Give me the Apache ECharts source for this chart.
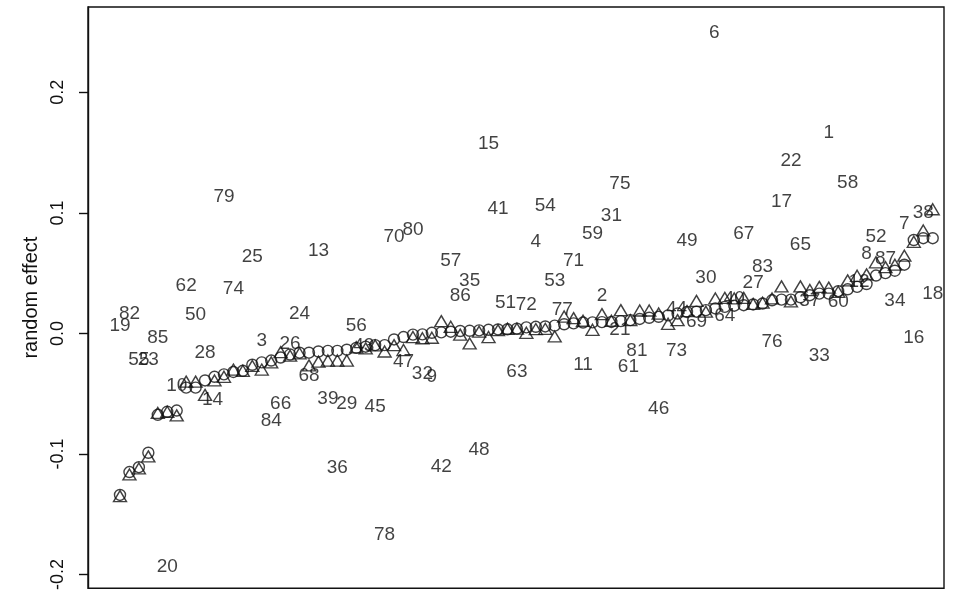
<!DOCTYPE html>
<html>
<head>
<meta charset="utf-8">
<script src="https://cdn.jsdelivr.net/npm/echarts@6/dist/echarts.min.js"></script>
<style>html,body{margin:0;padding:0;background:#fff}#c{width:954px;height:593px}</style>
</head>
<body>
<div id="c"></div>
<script>
// Sorted random effects (circles), one per rank 1..87
var circleVals = [-0.134,-0.115,-0.111,-0.099,-0.0675,-0.065,-0.064,-0.045,-0.045,-0.039,
-0.036,-0.034,-0.032,-0.031,-0.026,-0.024,-0.0225,-0.020,-0.0175,-0.016,
-0.016,-0.015,-0.0145,-0.0145,-0.0135,-0.012,-0.011,-0.0097,-0.0097,-0.005,
-0.003,-0.001,-0.0008,0.0005,0.0009,0.0014,0.002,0.0022,0.0025,0.003,
0.0033,0.0034,0.004,0.005,0.0055,0.0058,0.0065,0.0076,0.0083,0.009,
0.0092,0.0094,0.0095,0.0102,0.011,0.012,0.013,0.0138,0.015,0.0165,
0.0178,0.018,0.0193,0.0207,0.022,0.023,0.0234,0.024,0.0248,0.0275,
0.028,0.028,0.030,0.0317,0.033,0.033,0.035,0.0366,0.0386,0.041,
0.048,0.050,0.052,0.057,0.0775,0.079,0.079];
// Second estimate (triangles), same ranks
var triangleVals = [-0.135,-0.117,-0.112,-0.102,-0.066,-0.065,-0.068,-0.040,-0.040,-0.051,
-0.039,-0.036,-0.030,-0.031,-0.027,-0.030,-0.024,-0.0155,-0.0185,-0.0165,
-0.0265,-0.0234,-0.0225,-0.0225,-0.0225,-0.0115,-0.0124,-0.010,-0.015,-0.0097,
-0.0138,-0.003,-0.004,-0.0036,0.0102,0.0055,-0.001,-0.0083,0.0014,-0.003,
0.0027,0.004,0.004,0.0005,0.0036,0.0038,-0.0025,0.014,0.0127,0.0105,
0.003,0.016,0.0105,0.0193,0.011,0.019,0.019,0.0165,0.008,0.011,
0.0185,0.027,0.018,0.029,0.0295,0.029,0.0295,0.0245,0.0255,0.029,
0.039,0.0265,0.039,0.036,0.0386,0.038,0.0345,0.044,0.0478,0.049,
0.059,0.055,0.057,0.0645,0.076,0.0854,0.103];
// Unit labels: name, rank position, raw value
var labelNames = ["19","82","55","23","85","20","10","62","50","28","14","79","74","25","3","84","66","26","24","68",
"13","39","36","29","56","43","45","78","70","47","80","32","9","42","57","86","35","48","15","41",
"51","63","72","4","54","53","77","71","11","59","2","31","75","21","61","81","46","44","73","49",
"69","30","6","64","40","67","27","83","76","17","22","65","37","33","1","60","58","12","8","52",
"87","34","7","16","38","18"];
var labelX = [1,2,3,4,5,6,7,8,9,10,10.8,12,13,15,16,17,18,19,20,21,
22,23,24,25,26,26.8,28,29,30,31,32,33,34,35,36,37,38,39,40,41,
41.8,43,44,45,46,47,47.8,49,50,51,52,53,53.9,53.9,54.8,55.7,58,59.9,59.9,61,
62,63,63.9,65,66,67,68,69,70,71,72,73,74,75,76,77,78,79.2,80,81,
82,83,84,85,86,87];
var labelY = [0.0062,0.0161,-0.0219,-0.0219,-0.0037,-0.1939,-0.0434,0.0393,0.0153,-0.0161,-0.0550,0.1137,0.0368,0.0633,-0.0062,-0.0723,-0.0583,-0.0087,0.0161,-0.0351,
0.0682,-0.0542,-0.1112,-0.0583,0.0062,-0.0103,-0.0608,-0.1674,0.0798,-0.0236,0.0856,-0.0335,-0.0360,-0.1104,0.0600,0.0310,0.0434,-0.0963,0.1575,0.1030,
0.0252,-0.0318,0.0236,0.0757,0.1063,0.0434,0.0194,0.0600,-0.0260,0.0823,0.0310,0.0972,0.1245,0.0029,-0.0277,-0.0145,-0.0624,0.0203,-0.0145,0.0765,
0.0095,0.0459,0.2493,0.0145,0.0285,0.0823,0.0418,0.0550,-0.0070,0.1096,0.1435,0.0732,0.0269,-0.0186,0.1666,0.0261,0.1253,0.0426,0.0657,0.0798,
0.0616,0.0269,0.0906,-0.0037,0.1005,0.0327];
var yTicks = [-0.2,-0.1,0.0,0.1,0.2];

var ink = '#111';
var font = 'Liberation Sans, Arial, Helvetica, sans-serif';
var chart = echarts.init(document.getElementById('c'), null, {renderer:'canvas'});
var circleData = circleVals.map(function(v,i){return [i+1,v];});
var triData = triangleVals.map(function(v,i){return [i+1,v];});
var labData = labelNames.map(function(n,i){return {name:n, value:[labelX[i], labelY[i]]};});
chart.setOption({
  backgroundColor:'#fff',
  animation:false,
  grid:{left:88, right:10, top:7, bottom:3, show:true, borderColor:ink, borderWidth:1.4, backgroundColor:'transparent'},
  xAxis:{type:'value', min:-2.386, max:88.196, axisLine:{show:false, onZero:false}, axisTick:{show:false}, axisLabel:{show:false}, splitLine:{show:false}},
  yAxis:{type:'value', min:-0.2114, max:0.2708,
    name:'random effect', nameLocation:'middle', nameGap:43, nameRotate:90,
    nameTextStyle:{fontSize:20, color:ink, fontFamily:font},
    axisLine:{show:true, onZero:false, lineStyle:{color:ink, width:1.4}},
    splitLine:{show:false},
    axisTick:{show:true, customValues:yTicks, length:9, lineStyle:{color:ink, width:1.4}},
    axisLabel:{show:true, customValues:yTicks, rotate:90, margin:21, fontSize:18, color:ink, fontFamily:font,
      formatter:function(v){return (Math.round(v*10)/10).toFixed(1);}}
  },
  series:[
    {type:'scatter', data:labData, symbolSize:0, silent:true,
      label:{show:true, position:'inside', formatter:'{b}', fontSize:19, color:ink, fontFamily:font},
      labelLayout:{hideOverlap:false}, z:1},
    {type:'scatter', data:circleData, symbol:'circle', symbolSize:11, silent:true,
      itemStyle:{color:'rgba(0,0,0,0)', borderColor:ink, borderWidth:1.4}, z:2},
    {type:'scatter', data:triData, symbol:'triangle', symbolSize:[13,11], silent:true,
      itemStyle:{color:'rgba(0,0,0,0)', borderColor:ink, borderWidth:1.4}, z:3}
  ]
});
</script>
</body>
</html>
